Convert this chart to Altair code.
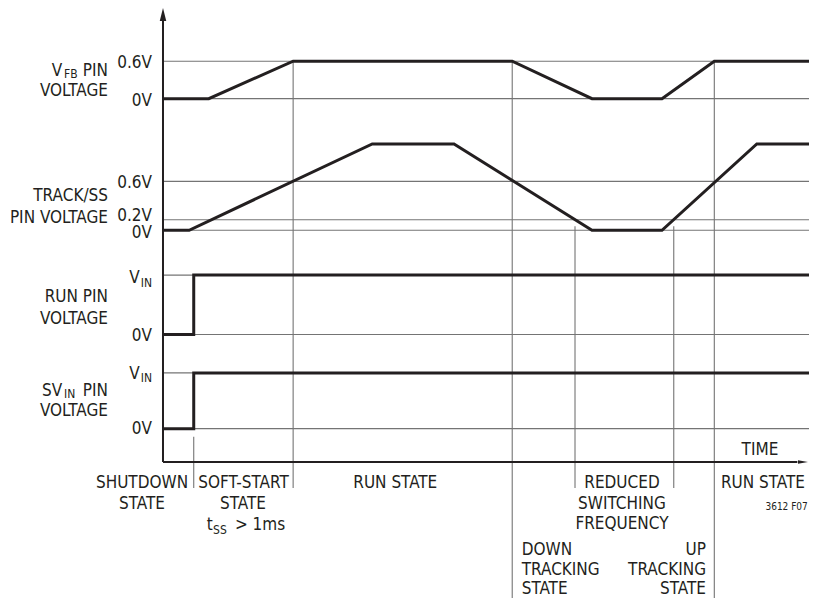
import altair as alt
import pandas as pd

# ---------------- data (time axis in arbitrary units, levels in diagram units) -------------
T_END = 98.8
vfb_t = [0, 7.0, 19.9, 53.4, 65.6, 76.3, 84.3, T_END]
vfb_v = [79.5, 79.5, 87.7, 87.7, 79.5, 79.5, 87.7, 87.7]
track_t = [0, 4.0, 32.0, 44.5, 65.6, 76.3, 90.8, T_END]
track_v = [50.7, 50.7, 69.6, 69.6, 50.7, 50.7, 69.6, 69.6]
run_t = [0, 4.7, 4.7, T_END]
run_v = [27.9, 27.9, 40.9, 40.9]
svin_t = [0, 4.7, 4.7, T_END]
svin_v = [7.3, 7.3, 19.5, 19.5]

grid_levels = [87.7, 79.5, 61.4, 53.0, 50.7, 40.9, 27.9, 19.5, 7.3]

marker_t = [4.7, 19.9, 53.4, 63.0, 78.1, 84.3]
marker_top = [5.5, 87.7, 87.7, 51.6, 51.6, 87.7]
marker_bottom = [-5.7, -5.7, -29.8, -5.7, -5.7, -29.8]

# labels: (text, t, level)
left_labels = [("PIN", -8.41, 84.46), ("VOLTAGE", -8.41, 80.09),
               ("TRACK/SS", -8.41, 57.0), ("PIN VOLTAGE", -8.41, 52.3),
               ("RUN PIN", -8.41, 35.0), ("VOLTAGE", -8.41, 30.2),
               ("PIN", -8.41, 14.5), ("VOLTAGE", -8.41, 10.07),
               ("V", -15.4, 84.46), ("SV", -15.4, 14.5)]
tick_labels = [("0.6V", -1.68, 86.15), ("0V", -1.68, 77.9),
               ("0.6V", -1.68, 60.0), ("0.2V", -1.68, 52.66), ("0V", -1.68, 49.12),
               ("0V", -1.68, 26.5), ("0V", -1.68, 6.13),
               ("V", -3.55, 39.06), ("V", -3.55, 18.16)]
sub_left = [("FB", -15.14, 84.0), ("IN", -15.14, 14.1), ("SS", 7.65, -15.75)]
sub_right = [("IN", -1.68, 38.4), ("IN", -1.68, 17.5)]
center_labels = [("SHUTDOWN", -3.21, -5.62), ("STATE", -3.21, -10.28),
                 ("SOFT-START", 12.31, -5.62), ("STATE", 12.23, -10.28),
                 ("RUN STATE", 35.52, -5.62),
                 ("REDUCED", 70.18, -5.62), ("SWITCHING", 70.18, -10.28),
                 ("FREQUENCY", 70.18, -14.73),
                 ("TIME", 91.28, 1.53), ("RUN STATE", 91.74, -5.62)]
left_bottom = [("t", 6.68, -14.88), ("> 1ms", 11.0, -14.88),
               ("DOWN", 54.85, -20.35), ("TRACKING", 54.85, -24.62), ("STATE", 54.85, -28.88)]
right_bottom = [("UP", 83.03, -20.35), ("TRACKING", 83.03, -24.62), ("STATE", 83.03, -28.88)]
fig_id = [("3612 F07", 98.6, -10.5)]

# ---------------- chart -------------
FONT = "Noto Sans Condensed, Liberation Sans Narrow, DejaVu Sans Condensed, sans-serif"
INK = "#231f20"
GRAY = "#747474"

xs = alt.Scale(domain=[-23.7, 98.78], nice=False, zero=False)
ys = alt.Scale(domain=[-29.76, 99.34], nice=False, zero=False)


def X(f="t"):
    return alt.X(f + ":Q", scale=xs, axis=None)


def Y(f="u"):
    return alt.Y(f + ":Q", scale=ys, axis=None)


rows = []
for name, ts, vs in [("vfb", vfb_t, vfb_v), ("track", track_t, track_v),
                     ("run", run_t, run_v), ("svin", svin_t, svin_v)]:
    for i, (t, v) in enumerate(zip(ts, vs)):
        rows.append({"series": name, "idx": i, "t": t, "u": v})
sig_df = pd.DataFrame(rows)

grid_df = pd.DataFrame({"u": grid_levels, "t": 0, "t2": T_END})
mark_df = pd.DataFrame({"t": marker_t, "u": marker_top, "u2": marker_bottom})

grid = alt.Chart(grid_df).mark_rule(color=GRAY, strokeWidth=1.1).encode(
    x=X(), x2="t2:Q", y=Y())
markers = alt.Chart(mark_df).mark_rule(color=GRAY, strokeWidth=1.1).encode(
    x=X(), y=Y(), y2="u2:Q")

axes_df = pd.DataFrame({"t": [0, 0], "t2": [0, 97.0], "u": [0, 0], "u2": [96.8, 0]})
axes = alt.Chart(axes_df).mark_rule(color=INK, strokeWidth=2).encode(
    x=X(), x2="t2:Q", y=Y(), y2="u2:Q")

up_arrow = alt.Chart(pd.DataFrame({"t": [0], "u": [97.9]})).mark_point(
    shape="M0,-1L0.5,1L-0.5,1Z", size=169, filled=True, color=INK, opacity=1).encode(x=X(), y=Y())
right_arrow = alt.Chart(pd.DataFrame({"t": [97.86], "u": [0]})).mark_point(
    shape="M1,0L-1,0.35L-1,-0.35Z", size=100, filled=True, color=INK, opacity=1).encode(x=X(), y=Y())

signals = alt.Chart(sig_df).mark_line(color=INK, strokeWidth=3, strokeJoin="miter").encode(
    x=X(), y=Y(), detail="series:N", order="idx:Q")


def text_layer(items, align, size):
    df = pd.DataFrame(items, columns=["label", "t", "u"])
    return alt.Chart(df).mark_text(align=align, baseline="alphabetic", font=FONT,
                                   fontSize=size, color=INK).encode(
        x=X(), y=Y(), text="label:N")


texts = [
    text_layer(left_labels, "right", 17),
    text_layer(tick_labels, "right", 17),
    text_layer(sub_left, "left", 12),
    text_layer(sub_right, "right", 12),
    text_layer(center_labels, "center", 17),
    text_layer(left_bottom, "left", 17),
    text_layer(right_bottom, "right", 17),
    text_layer(fig_id, "right", 10),
]

chart = alt.layer(grid, markers, axes, up_arrow, right_arrow, signals, *texts).properties(
    width=801, height=590, autosize=alt.AutoSizeParams(type="none"), padding=0
).configure_view(strokeWidth=0)

chart.save("out.html", embed_options={"renderer": "svg", "actions": False})
